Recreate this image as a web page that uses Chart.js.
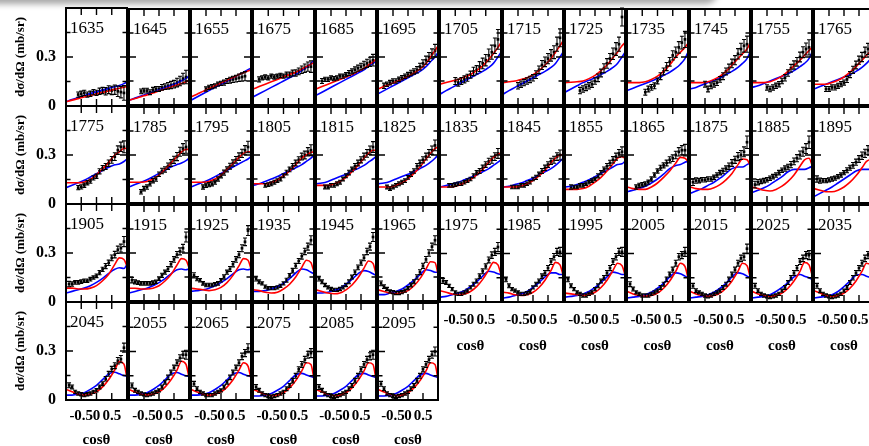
<!DOCTYPE html>
<html>
<head>
<meta charset="utf-8">
<script src="https://cdn.jsdelivr.net/npm/chart.js@4.4.0/dist/chart.umd.min.js"></script>
<style>
  html, body { margin: 0; padding: 0; background: #fff; }
  body { width: 869px; height: 446px; position: relative; overflow: hidden; }
  canvas { position: absolute; }
  #shade {
    position: absolute; left: -20px; top: -16px; width: 735px; height: 16px;
    background: #888; border-radius: 0 0 10px 0;
    box-shadow: 0 1px 6px 3px rgba(0, 0, 0, 0.35);
  }
</style>
</head>
<body>
<div id="shade"></div>
<script>
/* ---- Data ---------------------------------------------------------------- */

const _ = null;

const energies = [
  1635, 1645, 1655, 1675, 1685, 1695, 1705, 1715, 1725, 1735, 1745, 1755, 1765,
  1775, 1785, 1795, 1805, 1815, 1825, 1835, 1845, 1855, 1865, 1875, 1885, 1895,
  1905, 1915, 1925, 1935, 1945, 1965, 1975, 1985, 1995, 2005, 2015, 2025, 2035,
  2045, 2055, 2065, 2075, 2085, 2095,
];

// cos(theta) of the measured points
const cosData = [-0.9, -0.8, -0.7, -0.6, -0.5, -0.4, -0.3, -0.2, -0.1, 0,
  0.1, 0.2, 0.3, 0.4, 0.5, 0.6, 0.7, 0.8, 0.9];

// cos(theta) of the model curves
const cosFit = [-1, -0.8, -0.6, -0.4, -0.2, 0, 0.2, 0.4, 0.6, 0.75, 0.9, 1];

// measured dsigma/dOmega (mb/sr), one row per energy
const sigmaData = [
  [_,_,_,.07,.075,.08,.07,.075,.085,.08,.09,.095,.09,.10,.095,.10,.09,.085,.08],
  [_,_,_,.085,.09,.09,.08,.095,.10,.10,.11,.115,.12,.125,.13,.14,.15,.165,.175],
  [_,_,_,_,.10,.11,.115,.12,.13,.135,.14,.15,.155,.16,.165,.17,.175,.18,_],
  [_,.16,.17,.175,.17,.18,.175,.18,.185,.18,.19,.19,.20,.20,.21,.22,.23,.24,.24],
  [_,.15,.16,.16,.17,.165,.17,.18,.18,.19,.20,.21,.22,.23,.24,.25,.26,.27,.28],
  [_,.12,.13,.14,.15,.15,.16,.17,.18,.19,.20,.21,.22,.24,.26,.28,.30,.32,.34],
  [_,_,_,_,.15,.14,.15,.16,.17,.19,.21,.22,.24,.26,.28,.31,.33,.37,.41],
  [_,_,_,_,.12,.13,.14,.15,.16,.17,.19,.22,.25,.27,.29,.31,.33,.38,.42],
  [_,_,_,_,.09,.10,.11,.12,.13,.15,.17,.20,.23,.26,.29,.32,.35,.38,.55],
  [_,_,_,_,_,.08,.10,.11,.12,.15,.18,.21,.24,.27,.31,.33,.36,.39,.41],
  [_,_,_,_,.13,.10,.12,.13,.14,.16,.18,.21,.23,.26,.28,.32,.35,.37,.38],
  [_,_,_,_,.11,.10,.11,.12,.13,.15,.17,.20,.23,.25,.27,.30,.33,.35,.36],
  [_,_,_,.10,.10,.11,.11,.12,.13,.14,.16,.19,.22,.25,.28,.30,.33,.35,.37],

  [_,_,_,.10,.105,.115,.13,.14,.16,.17,.20,.22,.23,.25,.27,.29,.33,.35,.35],
  [_,_,_,.07,.09,.10,.12,.14,.15,.18,.20,.21,.23,.25,.27,.29,.32,.34,.35],
  [_,_,_,.10,.11,.115,.12,.13,.15,.17,.19,.21,.23,.25,.27,.29,.31,.33,.35],
  [_,_,_,.11,.115,.12,.13,.14,.15,.17,.19,.21,.23,.25,.27,.29,.30,.32,.33],
  [_,_,.10,.10,.11,.11,.12,.13,.15,.17,.19,.21,.23,.25,.27,.29,.31,.33,.35],
  [_,_,.10,.09,.10,.11,.12,.13,.14,.16,.18,.20,.23,.25,.27,.29,.31,.33,.36],
  [_,_,.11,.11,.115,.12,.12,.13,.14,.15,.17,.19,.20,.22,.24,.26,.27,.29,.31],
  [_,_,.10,.10,.10,.11,.11,.12,.13,.15,.16,.18,.20,.22,.24,.26,.27,.29,.30],
  [_,.10,.10,.10,.11,.11,.12,.13,.14,.15,.17,.19,.21,.23,.25,.27,.29,.31,.32],
  [_,_,.10,.11,.115,.12,.13,.15,.175,.20,.22,.235,.25,.27,.28,.30,.32,.33,.33],
  [.13,.14,.14,.145,.145,.15,.15,.16,.175,.19,.20,.215,.23,.25,.27,.29,.30,.32,.38],
  [.115,.13,.135,.14,.145,.155,.165,.175,.19,.205,.215,.225,.24,.26,.28,.30,.32,.34,.38],
  [.15,.14,.14,.14,.145,.15,.155,.165,.175,.19,.205,.22,.235,.255,.275,.295,.31,.33,.35],

  [.11,.11,.12,.12,.125,.13,.13,.14,.15,.16,.18,.20,.22,.24,.27,.29,.32,.33,.37],
  [.13,.12,.115,.11,.11,.11,.11,.115,.12,.14,.16,.18,.20,.23,.26,.29,.31,.33,.40],
  [.16,.14,.13,.11,.10,.10,.10,.105,.11,.13,.15,.18,.20,.23,.26,.29,.33,.37,.44],
  [.14,.12,.11,.09,.08,.08,.08,.085,.095,.11,.13,.16,.19,.22,.25,.28,.31,.34,.38],
  [.14,.12,.10,.085,.075,.07,.07,.075,.085,.10,.12,.15,.18,.21,.24,.27,.31,.34,.40],
  [.11,.09,.075,.06,.055,.05,.05,.055,.065,.08,.10,.12,.15,.18,.22,.26,.30,.34,.38],
  [.13,.12,.10,.08,.06,.05,.05,.06,.07,.09,.11,.13,.16,.19,.22,.26,.29,.31,.34],
  [.14,.10,.08,.07,.06,.05,.05,.055,.065,.09,.11,.13,.16,.18,.21,.25,.28,.31,.31],
  [.14,.10,.08,.06,.05,.04,.04,.05,.06,.08,.10,.13,.15,.18,.21,.25,.28,.31,.31],
  [.11,.08,.06,.05,.04,.04,.04,.05,.06,.07,.09,.11,.14,.17,.20,.24,.28,.29,.31],
  [.10,.07,.06,.05,.04,.035,.04,.05,.06,.07,.09,.11,.14,.17,.20,.24,.27,.28,.33],
  [.10,.07,.05,.04,.035,.03,.035,.04,.05,.07,.09,.12,.15,.18,.21,.25,.27,.29,.29],
  [.10,.07,.05,.04,.035,.03,.035,.04,.05,.07,.09,.12,.15,.18,.21,.24,.27,.29,.31],

  [.09,.08,.05,.04,.035,.03,.035,.04,.05,.06,.08,.10,.13,.16,.19,.21,.24,.25,.32],
  [.09,.06,.05,.04,.035,.03,.035,.04,.05,.06,.08,.11,.14,.17,.20,.23,.26,.28,.28],
  [.10,.07,.05,.04,.03,.03,.03,.04,.05,.06,.08,.11,.14,.17,.20,.23,.27,.29,.32],
  [.08,.06,.04,.03,.025,.02,.025,.03,.04,.05,.07,.09,.12,.15,.19,.22,.25,.28,.29],
  [.08,.06,.04,.03,.025,.02,.025,.03,.04,.05,.07,.09,.12,.15,.19,.22,.25,.27,.28],
  [.10,.07,.04,.03,.025,.02,.025,.03,.04,.05,.07,.09,.12,.15,.19,.22,.25,.28,.30],
];

// model 1 (red)
const fitRed = [
  [.026,.036,.045,.055,.064,.073,.083,.092,.102,.109,.115,.12],
  [.03,.04,.052,.063,.075,.087,.10,.112,.125,.135,.145,.155],
  [.05,.067,.085,.102,.12,.137,.155,.172,.19,.202,.213,.22],
  [.10,.115,.13,.145,.16,.175,.19,.205,.225,.24,.255,.265],
  [.10,.115,.13,.145,.16,.175,.19,.21,.23,.25,.27,.285],
  [.10,.115,.13,.145,.16,.18,.20,.225,.26,.30,.34,.37],
  [.13,.14,.15,.16,.175,.19,.215,.245,.285,.32,.36,.39],
  [.14,.145,.15,.16,.17,.19,.215,.25,.29,.33,.37,.40],
  [.14,.142,.145,.15,.165,.185,.215,.25,.295,.33,.37,.39],
  [.14,.14,.14,.145,.16,.18,.21,.25,.30,.33,.36,.385],
  [.14,.14,.14,.145,.16,.18,.21,.25,.29,.32,.35,.385],
  [.14,.14,.14,.145,.16,.18,.21,.245,.28,.31,.34,.36],
  [.13,.13,.13,.14,.155,.175,.205,.24,.28,.31,.34,.36],

  [.13,.13,.13,.135,.15,.18,.215,.255,.30,.32,.34,.34],
  [.13,.13,.13,.135,.15,.175,.21,.25,.29,.32,.335,.335],
  [.13,.13,.13,.135,.15,.175,.21,.245,.285,.31,.32,.32],
  [.12,.12,.12,.13,.145,.17,.20,.24,.28,.30,.315,.32],
  [.11,.11,.11,.12,.135,.16,.195,.235,.28,.31,.33,.33],
  [.10,.10,.10,.11,.125,.15,.185,.225,.275,.31,.34,.35],
  [.10,.10,.10,.11,.125,.145,.175,.21,.255,.285,.305,.31],
  [.10,.10,.10,.105,.12,.14,.17,.205,.25,.28,.30,.30],
  [.085,.085,.085,.09,.105,.13,.16,.20,.245,.28,.29,.28],
  [.10,.09,.085,.085,.10,.125,.16,.20,.25,.285,.28,.26],
  [.10,.09,.085,.085,.095,.115,.145,.185,.24,.275,.27,.24],
  [.10,.09,.08,.075,.085,.105,.135,.175,.23,.27,.28,.24],
  [.09,.08,.07,.07,.08,.10,.13,.17,.22,.26,.27,.24],

  [.085,.085,.08,.08,.085,.10,.13,.17,.23,.27,.26,.22],
  [.08,.08,.075,.075,.08,.095,.125,.165,.225,.265,.255,.21],
  [.08,.075,.07,.065,.07,.085,.115,.16,.22,.265,.255,.20],
  [.07,.065,.055,.05,.055,.075,.105,.15,.21,.255,.24,.18],
  [.07,.06,.05,.045,.05,.07,.10,.145,.205,.25,.235,.17],
  [.07,.06,.05,.045,.05,.065,.095,.14,.20,.245,.24,.17],
  [.07,.06,.05,.045,.05,.065,.095,.14,.20,.245,.23,.17],
  [.06,.055,.045,.04,.045,.06,.09,.135,.195,.245,.23,.17],
  [.055,.05,.045,.04,.045,.06,.09,.135,.195,.24,.225,.17],
  [.065,.05,.04,.035,.04,.055,.085,.13,.19,.24,.22,.15],
  [.065,.05,.04,.035,.04,.055,.085,.13,.19,.24,.225,.16],
  [.065,.05,.04,.035,.04,.055,.085,.13,.19,.245,.23,.17],
  [.07,.055,.04,.035,.04,.055,.085,.13,.19,.24,.225,.16],

  [.065,.05,.035,.028,.035,.05,.08,.125,.185,.235,.22,.135],
  [.065,.05,.035,.03,.035,.05,.08,.125,.185,.24,.22,.14],
  [.065,.05,.035,.028,.035,.05,.08,.125,.185,.23,.21,.13],
  [.065,.05,.035,.028,.03,.045,.075,.12,.18,.23,.22,.13],
  [.065,.05,.035,.028,.03,.045,.075,.12,.18,.23,.22,.13],
  [.065,.05,.035,.028,.03,.045,.075,.12,.18,.23,.22,.13],
];

// model 2 (blue)
const fitBlue = [
  [.026,.04,.052,.064,.076,.087,.098,.108,.118,.126,.137,.147],
  [.03,.043,.056,.069,.082,.095,.109,.123,.138,.151,.166,.18],
  [.03,.05,.07,.09,.11,.13,.15,.17,.19,.205,.22,.23],
  [.05,.07,.09,.11,.13,.15,.17,.19,.215,.235,.26,.28],
  [.06,.08,.10,.12,.14,.16,.18,.20,.22,.24,.26,.275],
  [.07,.09,.11,.13,.15,.17,.19,.21,.24,.27,.30,.33],
  [.067,.09,.11,.13,.15,.17,.19,.21,.235,.26,.30,.33],
  [.067,.09,.11,.13,.15,.17,.19,.21,.235,.26,.30,.33],
  [.08,.10,.12,.14,.155,.17,.19,.21,.235,.26,.30,.33],
  [.09,.105,.12,.135,.15,.165,.185,.205,.23,.255,.29,.33],
  [.10,.11,.125,.14,.155,.17,.19,.21,.235,.26,.29,.33],
  [.11,.12,.135,.15,.165,.18,.195,.215,.24,.26,.29,.33],
  [.10,.115,.13,.145,.16,.175,.19,.21,.235,.26,.29,.32],

  [.10,.115,.13,.145,.165,.185,.205,.225,.24,.245,.26,.275],
  [.10,.115,.13,.145,.165,.185,.205,.225,.24,.25,.265,.28],
  [.10,.115,.13,.145,.165,.185,.205,.225,.245,.26,.275,.29],
  [.11,.12,.135,.15,.165,.185,.20,.22,.24,.26,.28,.30],
  [.12,.125,.135,.15,.165,.18,.20,.215,.235,.255,.275,.29],
  [.12,.125,.135,.15,.165,.18,.195,.215,.235,.255,.28,.30],
  [.10,.11,.12,.13,.145,.16,.175,.195,.215,.235,.255,.27],
  [.10,.105,.115,.125,.14,.155,.175,.195,.215,.235,.26,.28],
  [.10,.105,.115,.13,.145,.165,.185,.205,.225,.24,.245,.26],
  [.07,.08,.09,.105,.125,.15,.18,.215,.235,.24,.255,.26],
  [.06,.075,.09,.11,.13,.155,.185,.215,.225,.225,.24,.25],
  [.065,.08,.095,.115,.14,.165,.195,.21,.21,.21,.22,.23],
  [.04,.06,.08,.10,.125,.15,.175,.20,.21,.21,.21,.21],

  [.055,.065,.075,.085,.10,.12,.145,.175,.20,.21,.205,.23],
  [.05,.06,.07,.08,.095,.115,.14,.17,.195,.20,.195,.20],
  [.06,.065,.07,.08,.095,.115,.14,.17,.195,.20,.195,.20],
  [.06,.06,.065,.075,.09,.11,.14,.175,.20,.195,.18,.17],
  [.05,.05,.055,.065,.08,.105,.135,.17,.19,.185,.17,.16],
  [.04,.04,.05,.06,.075,.10,.13,.165,.195,.19,.18,.18],
  [.03,.035,.045,.055,.07,.095,.125,.16,.19,.185,.175,.17],
  [.025,.03,.04,.05,.065,.09,.12,.155,.18,.18,.17,.17],
  [.03,.035,.04,.05,.065,.09,.12,.155,.185,.18,.17,.17],
  [.025,.03,.035,.045,.06,.085,.115,.155,.18,.175,.16,.15],
  [.025,.03,.035,.045,.06,.085,.115,.155,.18,.175,.16,.15],
  [.025,.03,.035,.045,.065,.09,.12,.155,.17,.16,.15,.14],
  [.025,.03,.035,.045,.065,.095,.13,.165,.17,.16,.15,.14],

  [.03,.03,.035,.045,.065,.09,.125,.16,.17,.16,.15,.145],
  [.03,.03,.035,.045,.065,.09,.125,.16,.17,.16,.15,.145],
  [.03,.03,.035,.045,.065,.09,.125,.16,.17,.16,.15,.145],
  [.025,.025,.03,.04,.06,.085,.12,.155,.165,.155,.145,.14],
  [.025,.025,.03,.04,.06,.085,.12,.155,.165,.155,.145,.14],
  [.025,.025,.03,.04,.06,.085,.12,.155,.165,.155,.145,.14],
];

// typical error bar half-length at each cos(theta), and its size per panel
const errProfile = [.015,.012,.01,.01,.01,.01,.01,.01,.01,.01,
  .012,.012,.014,.015,.016,.018,.02,.022,.028];
const errScale = [
  1.6,1.5,1.3,1.3,1.3,1.4,2.2,2.0,2.0,1.8,1.8,1.7,1.6,
  1.3,1.4,1.3,1.2,1.2,1.2,1.1,1.1,1.1,1.3,1.4,1.4,1.3,
  1.1,1.1,1.1,1.0,1.0,1.0,1.0,1.0,1.0,1.0,1.0,1.0,1.0,
  1.0,1.0,1.0,1.0,1.0,1.0,
];

const xLabelTicks = [-0.5, 0, 0.5];
const yLabelTicks = [0, 0.3];
const yMajorMarks = [0.3];
const yMinorMarks = [0.15, 0.45];

/* ---- Layout -------------------------------------------------------------- */

const colX = [66, 128, 190, 252, 315, 377, 439, 502, 564, 626, 689, 751, 813, 875];
const rowY = [8, 106, 204, 302, 400];
const SERIF = '"Liberation Serif", "Times New Roman", serif';

/* ---- Per-panel decorations: frame, inner ticks, error bars, label -------- */

const panelPlugin = {
  id: "panel",
  afterDatasetsDraw(chart, args, opts) {
    const { ctx, scales: { x, y } } = chart;
    const i = opts.index;
    ctx.save();
    ctx.strokeStyle = "#000";
    ctx.lineWidth = 1.1;
    ctx.beginPath();
    sigmaData[i].forEach((v, k) => {
      if (v === null) return;
      const e = errProfile[k] * errScale[i];
      const px = x.getPixelForValue(cosData[k]);
      const y0 = y.getPixelForValue(v - e);
      const y1 = y.getPixelForValue(v + e);
      ctx.moveTo(px, y0); ctx.lineTo(px, y1);
      ctx.moveTo(px - 2, y0); ctx.lineTo(px + 2, y0);
      ctx.moveTo(px - 2, y1); ctx.lineTo(px + 2, y1);
    });
    ctx.stroke();
    ctx.restore();
  },
  afterDraw(chart, args, opts) {
    const { ctx, chartArea: a, scales: { x, y } } = chart;
    ctx.save();
    ctx.strokeStyle = "#000";
    ctx.lineWidth = 1.4;
    ctx.beginPath();
    xLabelTicks.forEach((v) => {
      const p = x.getPixelForValue(v);
      ctx.moveTo(p, a.top); ctx.lineTo(p, a.top + 7);
      ctx.moveTo(p, a.bottom); ctx.lineTo(p, a.bottom - 7);
    });
    const yMark = (v, len) => {
      const p = y.getPixelForValue(v);
      ctx.moveTo(a.left, p); ctx.lineTo(a.left + len, p);
      ctx.moveTo(a.right, p); ctx.lineTo(a.right - len, p);
    };
    yMajorMarks.forEach((v) => yMark(v, 7));
    yMinorMarks.forEach((v) => yMark(v, 4.5));
    ctx.stroke();

    ctx.lineWidth = 2;
    ctx.strokeRect(a.left, a.top, a.right - a.left, a.bottom - a.top);

    ctx.fillStyle = "#000";
    ctx.font = "17px " + SERIF;
    ctx.textBaseline = "alphabetic";
    ctx.fillText(String(energies[opts.index]), a.left + 4, a.top + 25);
    ctx.restore();
  },
};

/* ---- Build one chart per energy ----------------------------------------- */

energies.forEach((energy, i) => {
  const r = Math.floor(i / 13);
  const c = i % 13;
  const leftEdge = c === 0;
  const rightBlockBottom = r === 2 && c >= 6;
  const bottomEdge = r === 3 || rightBlockBottom;

  const x0 = colX[c], x1 = colX[c + 1];
  const y0 = rowY[r], y1 = rowY[r + 1];
  const padL = leftEdge ? x0 : 3;
  const padR = 3;
  const padT = leftEdge ? 10 : 3;
  const padB = bottomEdge ? (rightBlockBottom ? 54 : 50) : (leftEdge ? 10 : 3);

  const canvas = document.createElement("canvas");
  canvas.width = x1 - x0 + padL + padR;
  canvas.height = y1 - y0 + padT + padB;
  canvas.style.left = (x0 - padL) + "px";
  canvas.style.top = (y0 - padT) + "px";
  document.body.appendChild(canvas);

  const measured = [];
  sigmaData[i].forEach((v, k) => {
    if (v !== null) measured.push({ x: cosData[k], y: v });
  });

  new Chart(canvas.getContext("2d"), {
    type: "line",
    data: {
      datasets: [
        {
          data: cosFit.map((cx, k) => ({ x: cx, y: fitRed[i][k] })),
          borderColor: "#ff0000",
          borderWidth: 1.6,
          pointRadius: 0,
          cubicInterpolationMode: "monotone",
          fill: false,
        },
        {
          data: cosFit.map((cx, k) => ({ x: cx, y: fitBlue[i][k] })),
          borderColor: "#0000ff",
          borderWidth: 1.6,
          pointRadius: 0,
          cubicInterpolationMode: "monotone",
          fill: false,
        },
        {
          data: measured,
          showLine: false,
          pointStyle: "rect",
          pointRadius: 1.9,
          backgroundColor: "#000",
          borderColor: "#000",
          borderWidth: 0,
        },
      ],
    },
    options: {
      responsive: false,
      animation: false,
      devicePixelRatio: 1,
      layout: { padding: { left: 0, top: padT, right: padR, bottom: 0 } },
      plugins: {
        legend: { display: false },
        tooltip: { enabled: false },
        panel: { index: i },
      },
      scales: {
        x: {
          type: "linear",
          min: -1,
          max: 1,
          afterBuildTicks: (s) => { s.ticks = xLabelTicks.map((v) => ({ value: v })); },
          afterFit: (s) => {
            s.height = padB;
            s.paddingLeft = 0;
            s.paddingRight = 0;
          },
          grid: { display: false, drawTicks: false },
          border: { display: false },
          ticks: {
            display: bottomEdge,
            autoSkip: false,
            maxRotation: 0,
            padding: rightBlockBottom ? 9 : 7,
            color: "#000",
            font: { family: SERIF, size: 15, weight: "bold" },
          },
          title: {
            display: bottomEdge,
            text: "cosθ",
            color: "#000",
            padding: { top: 0, bottom: 1 },
            font: { family: SERIF, size: 15, weight: "bold" },
          },
        },
        y: {
          type: "linear",
          min: 0,
          max: 0.6,
          afterBuildTicks: (s) => { s.ticks = yLabelTicks.map((v) => ({ value: v })); },
          afterFit: (s) => {
            s.width = padL;
            s.paddingTop = 0;
            s.paddingBottom = 0;
          },
          grid: { display: false, drawTicks: false },
          border: { display: false },
          ticks: {
            display: leftEdge,
            padding: 10,
            color: "#000",
            font: { family: SERIF, size: 16, weight: "bold" },
          },
          title: {
            display: leftEdge,
            text: "dσ/dΩ (mb/sr)",
            color: "#000",
            padding: { top: 13, bottom: 0 },
            font: { family: SERIF, size: 13, weight: "bold" },
          },
        },
      },
    },
    plugins: [panelPlugin],
  });
});
</script>
</body>
</html>
